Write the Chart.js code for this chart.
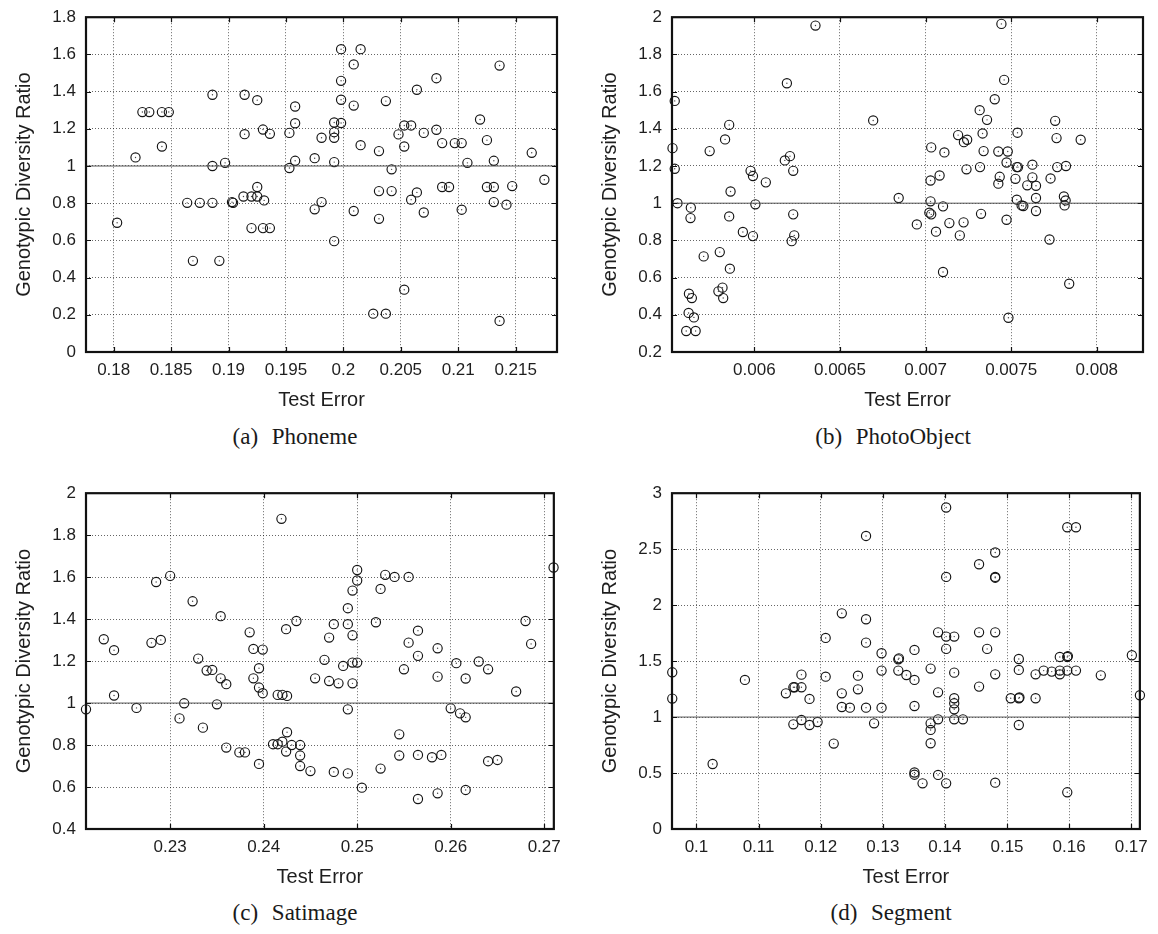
<!DOCTYPE html>
<html>
<head>
<meta charset="utf-8">
<script src="https://cdn.jsdelivr.net/npm/chart.js@4.4.1/dist/chart.umd.min.js"></script>
<style>
  body { margin: 0; background: #fff; }
  #page { position: relative; width: 1158px; height: 934px; overflow: hidden; }
  canvas { position: absolute; }
  .cap { position: absolute; font-family: "Liberation Serif", serif; font-size: 23px; color: #1a1a1a;
         white-space: pre; transform: translate(-50%, -50%); word-spacing: 8px; }
</style>
</head>
<body>
<div id="page">
  <canvas id="phoneme"></canvas>
  <canvas id="photo"></canvas>
  <canvas id="satimage"></canvas>
  <canvas id="segment"></canvas>
  <div class="cap" style="left:295px;top:437px">(a) Phoneme</div>
  <div class="cap" style="left:893px;top:437px">(b) PhotoObject</div>
  <div class="cap" style="left:295px;top:913px">(c) Satimage</div>
  <div class="cap" style="left:891px;top:913px">(d) Segment</div>
</div>
<script>
// (a) Phoneme
const phonemeX = [0.1803, 0.1819, 0.1825, 0.1831, 0.1842, 0.1842, 0.1848, 0.1864, 0.1875, 0.1869,
  0.1886, 0.1886, 0.1886, 0.1892, 0.1897, 0.1903, 0.1904, 0.1914, 0.1914, 0.1913,
  0.1920, 0.1920, 0.1925, 0.1925, 0.1925, 0.1930, 0.1931, 0.1930, 0.1936, 0.1936,
  0.1953, 0.1953, 0.1958, 0.1958, 0.1958,
  0.1975, 0.1981, 0.1975, 0.1981, 0.1992, 0.1992, 0.1992, 0.1992, 0.1992, 0.1998,
  0.1998, 0.1998, 0.1998, 0.2009, 0.2015, 0.2009, 0.2015, 0.2009, 0.2031, 0.2031,
  0.2031, 0.2037, 0.2042, 0.2042, 0.2026, 0.2037, 0.2048, 0.2053, 0.2053, 0.2053,
  0.2059, 0.2059, 0.2064, 0.2064, 0.2070, 0.2070, 0.2081, 0.2081, 0.2086, 0.2086,
  0.2092, 0.2097, 0.2103, 0.2103, 0.2108, 0.2119, 0.2125, 0.2125, 0.2131, 0.2131,
  0.2131, 0.2136, 0.2136, 0.2142, 0.2147, 0.2164, 0.2175];
const phonemeY = [0.695, 1.046, 1.29, 1.29, 1.105, 1.29, 1.29, 0.802, 0.802, 0.49,
  1.383, 1.0, 0.802, 0.49, 1.017, 0.806, 0.802, 1.383, 1.171, 0.836,
  0.836, 0.666, 0.887, 0.836, 1.354, 1.196, 0.815, 0.666, 1.173, 0.666,
  1.178, 0.989, 1.32, 1.23, 1.028,
  1.042, 1.152, 0.767, 0.806, 1.234, 1.182, 1.152, 1.021, 0.596, 1.628,
  1.458, 1.356, 1.231, 1.546, 1.628, 1.325, 1.112, 0.758, 1.08, 0.865,
  0.716, 1.349, 0.982, 0.865, 0.206, 0.206, 1.17, 1.218, 1.105, 0.335,
  1.218, 0.819, 1.41, 0.858, 1.178, 0.75, 1.472, 1.195, 1.123, 0.887,
  0.887, 1.123, 1.123, 0.765, 1.017, 1.25, 1.139, 0.887, 1.028, 0.887,
  0.806, 1.54, 0.167, 0.792, 0.892, 1.071, 0.926];
const phonemeXTicks = [0.18, 0.185, 0.19, 0.195, 0.2, 0.205, 0.21, 0.215];
const phonemeYTicks = [0, 0.2, 0.4, 0.6, 0.8, 1, 1.2, 1.4, 1.6, 1.8];

// (b) PhotoObject
const photoX = [0.005535, 0.005522, 0.005535, 0.005551, 0.005629, 0.005627, 0.005739, 0.005829, 0.005853, 0.005861,
  0.005853, 0.005933, 0.005978, 0.005992, 0.006067, 0.006006, 0.005992, 0.006178, 0.006208, 0.006227,
  0.006227, 0.006233, 0.006218, 0.005704, 0.005798, 0.005857, 0.005618, 0.005635, 0.005790, 0.005814,
  0.005818, 0.005616, 0.005647, 0.005602, 0.005657, 0.006357, 0.006190,
  0.006694, 0.006843, 0.006949, 0.007033, 0.007029, 0.007029, 0.007022, 0.007033, 0.007061, 0.007082,
  0.007110, 0.007102, 0.007102, 0.007139, 0.007190, 0.007222, 0.007200, 0.007224, 0.007243, 0.007239,
  0.007316, 0.007318, 0.007324, 0.007333, 0.007339, 0.007359, 0.007404, 0.007425, 0.007425, 0.007433,
  0.007443, 0.007459, 0.007473, 0.007480, 0.007473, 0.007484, 0.007525, 0.007533, 0.007540, 0.007537,
  0.007533, 0.007561, 0.007571, 0.007594, 0.007624, 0.007624, 0.007645, 0.007645, 0.007645, 0.007730,
  0.007724, 0.007757, 0.007765, 0.007769, 0.007820, 0.007808, 0.007818, 0.007812, 0.007839, 0.007906];
const photoY = [1.55, 1.296, 1.185, 1.0, 0.976, 0.92, 1.28, 1.343, 1.421, 1.063,
  0.929, 0.845, 1.174, 1.146, 1.112, 0.994, 0.823, 1.23, 1.253, 1.174,
  0.94, 0.827, 0.796, 0.714, 0.737, 0.648, 0.513, 0.49, 0.526, 0.546,
  0.49, 0.41, 0.386, 0.313, 0.313, 1.955, 1.645,
  1.445, 1.028, 0.886, 1.3, 1.122, 1.01, 0.949, 0.94, 0.847, 1.149,
  1.273, 0.983, 0.63, 0.893, 1.366, 0.897, 0.827, 1.328, 1.341, 1.182,
  1.5, 1.194, 0.943, 1.375, 1.28, 1.448, 1.559, 1.278, 1.105, 1.142,
  1.964, 1.663, 1.219, 1.278, 0.911, 0.384, 1.131, 1.194, 1.194, 1.379,
  1.019, 0.988, 0.985, 1.096, 1.207, 1.139, 1.094, 1.028, 0.958, 1.133,
  0.805, 1.443, 1.35, 1.194, 1.2, 1.036, 1.015, 0.988, 0.567, 1.341];
const photoXTicks = [0.006, 0.0065, 0.007, 0.0075, 0.008];
const photoYTicks = [0.2, 0.4, 0.6, 0.8, 1, 1.2, 1.4, 1.6, 1.8, 2];

// (c) Satimage
const satX = [0.2210, 0.2229, 0.2240, 0.2240, 0.2264, 0.2280, 0.2285, 0.2290, 0.2300, 0.2310,
  0.2315, 0.2324, 0.2330, 0.2339, 0.2345, 0.2335, 0.2350, 0.2354, 0.2354, 0.2360,
  0.2360, 0.2374, 0.2380, 0.2385, 0.2389, 0.2399, 0.2395, 0.2389, 0.2395, 0.2399,
  0.2395, 0.2415, 0.2420, 0.2425, 0.2419, 0.2424, 0.2425, 0.2410, 0.2415, 0.2420,
  0.2424, 0.2430, 0.2435, 0.2439, 0.2439, 0.2439, 0.2450, 0.2455, 0.2465, 0.2470,
  0.2475, 0.2470, 0.2480, 0.2475, 0.2485, 0.2490, 0.2490, 0.2490, 0.2490, 0.2495,
  0.2495, 0.2495, 0.2495, 0.2500, 0.2500, 0.2500, 0.2505, 0.2520, 0.2525, 0.2530,
  0.2540, 0.2555, 0.2525, 0.2545, 0.2545, 0.2550, 0.2555, 0.2565, 0.2565, 0.2565,
  0.2565, 0.2580, 0.2586, 0.2586, 0.2586, 0.2590, 0.2600, 0.2606, 0.2610, 0.2616,
  0.2616, 0.2616, 0.2630, 0.2640, 0.2640, 0.2650, 0.2670, 0.2680, 0.2686, 0.2710];
const satY = [0.97, 1.304, 1.252, 1.036, 0.977, 1.287, 1.577, 1.301, 1.606, 0.927,
  0.999, 1.485, 1.212, 1.155, 1.158, 0.883, 0.994, 1.414, 1.118, 1.09,
  0.788, 0.765, 0.765, 1.337, 1.258, 1.255, 1.166, 1.118, 1.074, 1.047,
  0.71, 1.039, 1.039, 1.034, 1.878, 1.352, 0.861, 0.804, 0.804, 0.816,
  0.769, 0.8, 1.391, 0.8, 0.75, 0.7, 0.676, 1.118, 1.206, 1.312,
  1.376, 1.105, 1.094, 0.672, 1.177, 1.452, 1.376, 0.97, 0.665, 1.536,
  1.323, 1.193, 1.094, 1.634, 1.584, 1.193, 0.597, 1.385, 1.544, 1.611,
  1.601, 1.601, 0.688, 0.851, 0.75, 1.161, 1.288, 1.345, 1.225, 0.753,
  0.543, 0.742, 1.261, 1.126, 0.57, 0.753, 0.975, 1.19, 0.951, 0.932,
  1.117, 0.586, 1.198, 1.161, 0.723, 0.729, 1.055, 1.391, 1.282, 1.646];
const satXTicks = [0.23, 0.24, 0.25, 0.26, 0.27];
const satYTicks = [0.4, 0.6, 0.8, 1, 1.2, 1.4, 1.6, 1.8, 2];

// (d) Segment
const segX = [0.0961, 0.0961, 0.1026, 0.1078, 0.1144, 0.1156, 0.1158, 0.1169, 0.1169, 0.1182,
  0.1208, 0.1208, 0.1156, 0.1169, 0.1182, 0.1195, 0.1221, 0.1234, 0.1234, 0.1234,
  0.1247, 0.1260, 0.1260, 0.1273, 0.1273, 0.1273, 0.1273, 0.1286, 0.1298, 0.1298,
  0.1298, 0.1325, 0.1326, 0.1325, 0.1338, 0.1351, 0.1351, 0.1351, 0.1351, 0.1351,
  0.1364, 0.1377, 0.1377, 0.1377, 0.1377, 0.1389, 0.1389, 0.1389, 0.1389, 0.1402,
  0.1402, 0.1402, 0.1402, 0.1402, 0.1415, 0.1415, 0.1415, 0.1415, 0.1415, 0.1415,
  0.1429, 0.1455, 0.1455, 0.1455, 0.1468, 0.1481, 0.1481, 0.1481, 0.1481, 0.1481,
  0.1481, 0.1506, 0.1519, 0.1519, 0.1519, 0.1520, 0.1519, 0.1546, 0.1546, 0.1559,
  0.1572, 0.1585, 0.1585, 0.1585, 0.1597, 0.1598, 0.1597, 0.1597, 0.1597, 0.1611,
  0.1611, 0.1651, 0.1701, 0.1714];
const segY = [1.4, 1.165, 0.581, 1.332, 1.212, 1.266, 1.266, 1.266, 1.379, 1.162,
  1.361, 1.707, 0.935, 0.974, 0.929, 0.956, 0.763, 1.927, 1.212, 1.09,
  1.084, 1.37, 1.248, 2.618, 1.874, 1.665, 1.084, 0.944, 1.57, 1.415,
  1.084, 1.516, 1.525, 1.415, 1.376, 1.6, 1.332, 1.099, 0.505, 0.485,
  0.408, 0.944, 0.885, 0.766, 1.433, 1.757, 1.221, 0.98, 0.483, 2.872,
  2.252, 1.719, 1.609, 0.408, 1.719, 1.397, 1.168, 1.123, 1.069, 0.98,
  0.98, 2.365, 1.757, 1.272, 1.609, 2.47, 2.252, 2.245, 1.757, 1.382,
  0.414, 1.168, 1.519, 1.421, 1.168, 1.175, 0.929, 1.168, 1.382, 1.415,
  1.406, 1.537, 1.415, 1.382, 1.537, 1.545, 1.415, 2.696, 0.328, 2.696,
  1.415, 1.373, 1.552, 1.195];
const segXTicks = [0.1, 0.11, 0.12, 0.13, 0.14, 0.15, 0.16, 0.17];
const segYTicks = [0, 0.5, 1, 1.5, 2, 2.5, 3];

const AXIS_W = 86, AXIS_H = 60, PAD_TOP = 20, PAD_RIGHT = 12;
const fmt = v => String(parseFloat(v.toPrecision(6)));

// box with inward tick marks, like the matlab axes
const framePlugin = {
  id: 'frame',
  afterDraw(chart) {
    const { ctx, chartArea: a, scales: { x, y } } = chart;
    ctx.save();
    ctx.strokeStyle = '#111';
    ctx.lineWidth = 1.2;
    ctx.beginPath();
    x.ticks.forEach(t => {
      const px = Math.round(x.getPixelForValue(t.value)) + 0.5;
      ctx.moveTo(px, a.bottom); ctx.lineTo(px, a.bottom - 5);
      ctx.moveTo(px, a.top); ctx.lineTo(px, a.top + 5);
    });
    y.ticks.forEach(t => {
      const py = Math.round(y.getPixelForValue(t.value)) + 0.5;
      ctx.moveTo(a.left, py); ctx.lineTo(a.left + 5, py);
      ctx.moveTo(a.right, py); ctx.lineTo(a.right - 5, py);
    });
    ctx.stroke();
    ctx.lineWidth = 2.2;
    ctx.strokeRect(a.left, a.top, a.right - a.left, a.bottom - a.top);
    ctx.restore();
  }
};

function makePanel(id, box, xs, ys, xMin, xMax, yMin, yMax, xTicks, yTicks) {
  const canvas = document.getElementById(id);
  const left = box.left - AXIS_W, top = box.top - PAD_TOP;
  canvas.style.left = left + 'px';
  canvas.style.top = top + 'px';
  canvas.width = box.right + PAD_RIGHT - left;
  canvas.height = box.bottom + AXIS_H - top;

  const pts = xs.map((v, i) => ({ x: v, y: ys[i] }));
  const tickFont = { family: 'Liberation Sans, Arial', size: 17 };
  const titleFont = { family: 'Liberation Sans, Arial', size: 20 };

  new Chart(canvas.getContext('2d'), {
    type: 'scatter',
    data: {
      datasets: [
        {
          type: 'line', data: [{ x: xMin, y: 1 }, { x: xMax, y: 1 }],
          borderColor: '#555', borderWidth: 1, pointRadius: 0
        },
        {
          data: pts, pointStyle: 'circle', pointRadius: 4.6,
          borderColor: '#141414', borderWidth: 1.15, backgroundColor: 'rgba(0,0,0,0)', clip: false
        },
        {
          data: pts, pointRadius: 0.7, borderWidth: 0, backgroundColor: '#444', clip: false
        }
      ]
    },
    options: {
      responsive: false,
      animation: false,
      events: [],
      layout: { padding: { left: 0, top: PAD_TOP, right: PAD_RIGHT, bottom: 0 } },
      plugins: { legend: { display: false }, tooltip: { enabled: false } },
      scales: {
        x: {
          type: 'linear', min: xMin, max: xMax,
          afterBuildTicks: s => { s.ticks = xTicks.map(v => ({ value: v })); },
          afterFit: s => { s.height = AXIS_H; },
          ticks: { callback: fmt, color: '#1e1e1e', font: tickFont, padding: 8, maxRotation: 0, autoSkip: false },
          grid: { color: 'rgba(0,0,0,0.6)', lineWidth: 1, drawTicks: false },
          border: { display: false, dash: [1, 2] },
          title: { display: true, text: 'Test Error', color: '#1e1e1e', font: titleFont, padding: { top: 0, bottom: 0 } }
        },
        y: {
          type: 'linear', min: yMin, max: yMax,
          afterBuildTicks: s => { s.ticks = yTicks.map(v => ({ value: v })); },
          afterFit: s => { s.width = AXIS_W; },
          ticks: { callback: fmt, color: '#1e1e1e', font: tickFont, padding: 10, autoSkip: false },
          grid: { color: 'rgba(0,0,0,0.6)', lineWidth: 1, drawTicks: false },
          border: { display: false, dash: [1, 2] },
          title: { display: true, text: 'Genotypic Diversity Ratio', color: '#1e1e1e', font: titleFont, padding: { top: 12, bottom: 0 } }
        }
      }
    },
    plugins: [framePlugin]
  });
}

makePanel('phoneme', { left: 86, top: 17, right: 557, bottom: 352 }, phonemeX, phonemeY,
  0.17759, 0.2186, 0, 1.8, phonemeXTicks, phonemeYTicks);
makePanel('photo', { left: 672, top: 17, right: 1143, bottom: 352 }, photoX, photoY,
  0.005519, 0.00827, 0.2, 2, photoXTicks, photoYTicks);
makePanel('satimage', { left: 86, top: 493, right: 557, bottom: 829 }, satX, satY,
  0.221, 0.27103, 0.4, 2, satXTicks, satYTicks);
makePanel('segment', { left: 672, top: 493, right: 1144, bottom: 829 }, segX, segY,
  0.09606, 0.17139, 0, 3, segXTicks, segYTicks);
</script>
</body>
</html>
